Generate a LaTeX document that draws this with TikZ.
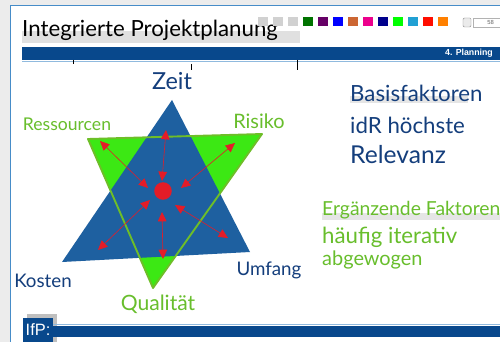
\documentclass[tikz,border=0pt]{standalone}
\usepackage{fontspec}
\setmainfont{Liberation Sans}
\newfontfamily\handfont{Lato}
\usetikzlibrary{arrows.meta}

\definecolor{frameGray}{RGB}{236,236,236}
\definecolor{frameBlue}{RGB}{70,140,200}
\definecolor{bandBlue}{RGB}{8,72,140}
\definecolor{triBlue}{RGB}{30,96,160}
\definecolor{triGreen}{RGB}{60,232,20}
\definecolor{lineGreen}{RGB}{110,190,40}
\definecolor{inkBlue}{RGB}{20,62,124}
\definecolor{inkGreen}{RGB}{104,190,44}
\definecolor{dotRed}{RGB}{228,28,40}

\begin{document}
\begin{tikzpicture}[x=0.03cm,y=-0.03cm]
\tikzset{
  hand/.style={inner sep=0pt, font=\handfont\fontsize{#1}{#1}\selectfont},
  handblue/.style={hand=#1, text=inkBlue},
  handgreen/.style={hand=#1, text=inkGreen},
  twoway/.style={{Triangle[length=2.8mm,width=2.6mm]}-{Triangle[length=2.8mm,width=2.6mm]}, draw=dotRed, line width=0.5pt},
  swatch/.style={fill=#1, draw=none},
}
\useasboundingbox (0,0) rectangle (500,342);

% frame of the slide
\fill[frameGray] (0,0) rectangle (500,342);
\fill[white] (10,5) rectangle (500,342);
\draw[frameBlue, line width=0.8pt] (10,342) -- (10,5) -- (500,5);

% title with marker highlight
\fill[black!12] (22,31) rectangle (300,43);
\node[hand=19, anchor=west] (title) at (22,30) {Integrierte Projektplanung};

% colour palette
\foreach \c [count=\i from 0] in {black!18,black!18,black!18,green!45!black,violet!80!black,blue,brown!80!red,magenta,blue!55!black,green,cyan!70!teal,red!90!orange,orange}
  \fill[swatch=\c] ({258+15*\i},17) rectangle ({268+15*\i},26);
\draw[black!45, fill=black!8, rounded corners=1pt] (463,18) rectangle (471,27);
\draw[black!30] (473,18) rectangle (502,27);
\node[font=\fontsize{5}{5}\selectfont, text=black!60, anchor=east] (page) at (498,22.5) {58};

% header band
\fill[bandBlue] (22,47) rectangle (500,60);
\node[font=\bfseries\fontsize{7.5}{7.5}\selectfont, text=white, anchor=east] (chapter) at (497,53.5) {4. Planning};
\draw[frameBlue!60, line width=0.4pt] (22,61) -- (500,61);
\draw[black, line width=0.6pt] (73,60) -- (73,64);
\draw[black, line width=0.6pt] (191,64) -- (191,70);
\draw[black, line width=0.6pt] (297,60) -- (297,70);

% corners of both triangles
\coordinate (zeitTip) at (172,100);
\coordinate (kostenTip) at (62,262);
\coordinate (umfangTip) at (250,252);
\coordinate (ressTip) at (88,139);
\coordinate (risikoTip) at (262,134);
\coordinate (qualTip) at (153,288);

\fill[triGreen] (ressTip) -- (risikoTip) -- (qualTip) -- cycle;
\fill[triBlue] (zeitTip) -- (umfangTip) -- (kostenTip) -- cycle;
\draw[lineGreen, line width=1.6pt, line join=round] (ressTip) -- (risikoTip) -- (qualTip) -- cycle;

% centre and arrows
\node[circle, fill=dotRed, minimum size=15pt, inner sep=0pt] (core) at (163,191) {};
\coordinate (upIn) at (162,181);      \coordinate (upOut) at (166,130);
\coordinate (ulIn) at (148,188);      \coordinate (ulOut) at (100,141);
\coordinate (urIn) at (181,188);      \coordinate (urOut) at (235,143);
\coordinate (llIn) at (150,200);      \coordinate (llOut) at (98,250);
\coordinate (dnIn) at (162,212);      \coordinate (dnOut) at (163,259);
\coordinate (lrIn) at (175,205);      \coordinate (lrOut) at (228,238);
\foreach \a in {up,ul,ur,ll,dn,lr}
  \draw[twoway] (\a In) -- (\a Out);

% corner labels
\node[handblue=20] (zeit) at (172,81) {Zeit};
\node[handgreen=15] (ress) at (67,124) {Ressourcen};
\node[handgreen=17] (risiko) at (259,121) {Risiko};
\node[handblue=16] (kosten) at (43,281) {Kosten};
\node[handblue=16] (umfang) at (269,270) {Umfang};
\node[handgreen=18] (qual) at (158,304) {Qualität};

% notes on the right
\fill[black!10] (350,96) rectangle (468,103);
\node[handblue=19, anchor=west] (basis) at (350,93) {Basisfaktoren};
\node[handblue=19, anchor=west] (relev1) at (350,125) {idR höchste};
\node[handblue=21, anchor=west] (relev2) at (350,155) {Relevanz};
\fill[black!10] (322,213) rectangle (500,220);
\node[handgreen=16.5, anchor=west] (ergaenz) at (322,210) {Ergänzende Faktoren};
\node[handgreen=19, anchor=west] (iter1) at (322,237) {häufig iterativ};
\node[handgreen=17, anchor=west] (iter2) at (322,260) {abgewogen};

% footer
\fill[black!25] (27,314) rectangle (57,342);
\fill[bandBlue] (23,318) rectangle (53,342);
\node[font=\fontsize{14}{14}\selectfont, text=white, inner sep=0pt] (ifp) at (38,330) {IfP:};
\draw[frameBlue!60, line width=0.4pt] (53,324.5) -- (500,324.5);
\fill[bandBlue] (53,326) rectangle (500,337);
\end{tikzpicture}
\end{document}
